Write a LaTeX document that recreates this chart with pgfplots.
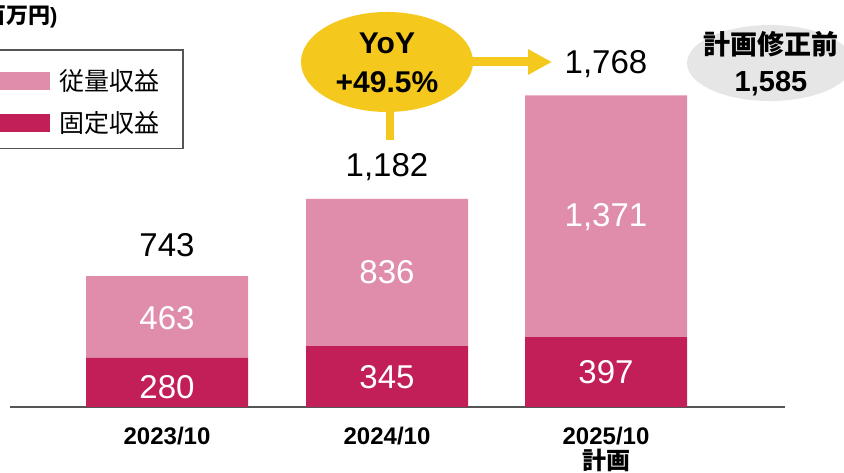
\documentclass[border=0pt]{standalone}
\usepackage{pgfplots}
\pgfplotsset{compat=1.18}
\usepackage{fontspec}
\setmainfont{Liberation Sans}
\newfontfamily\jp{Noto Sans CJK JP}
\usetikzlibrary{arrows.meta}
\definecolor{pinkL}{RGB}{224,141,171}
\definecolor{pinkD}{RGB}{194,30,88}
\definecolor{yel}{RGB}{245,200,30}
\definecolor{bub}{RGB}{230,230,230}
\definecolor{axg}{RGB}{85,85,85}
\begin{document}
\begin{tikzpicture}
\useasboundingbox (0,0) rectangle (844pt,473pt);
\begin{axis}[
  at={(10pt,66pt)}, anchor=south west,
  scale only axis, width=775pt, height=407pt,
  xmin=10, xmax=785, ymin=0, ymax=2308.6,
  clip=false,
  axis x line=bottom, axis y line=none,
  axis line style={-, draw=axg, line width=2.5pt},
  ybar stacked, bar width=162pt,
  xtick={167,387,606},
  xticklabels={2023/10,2024/10,{2025/10\\{\jp\bfseries 計画}}},
  xticklabel style={font=\bfseries\fontsize{24}{25}\selectfont, align=center, inner sep=0pt, yshift=-20pt},
  major tick length=0pt,
  ytick=\empty,
  reverse legend,
  legend style={at={(rel axis cs:0.2245,0.8796)}, anchor=north east,
    draw=axg, line width=1.8pt, inner xsep=24pt, inner ysep=14pt,
    row sep=14pt, column sep=9pt,
    nodes={inner sep=0pt}},
  legend cell align=left,
]
\addplot[fill=pinkD, draw=none, legend image code/.code={\path (0pt,-9pt) -- (0pt,17pt); \fill[pinkD] (0pt,-9pt) rectangle (58pt,9pt);}] coordinates {(167,280) (387,345) (606,397)};
\addlegendentry{\jp\fontsize{25}{28}\selectfont 固定収益}
\addplot[fill=pinkL, draw=none, legend image code/.code={\path (0pt,-9pt) -- (0pt,17pt); \fill[pinkL] (0pt,-9pt) rectangle (58pt,9pt);}] coordinates {(167,463) (387,836) (606,1371)};
\addlegendentry{\jp\fontsize{25}{28}\selectfont 従量収益}

\coordinate (l1) at (axis cs:167,113);
\coordinate (l2) at (axis cs:167,505);
\coordinate (l3) at (axis cs:387,170);
\coordinate (l4) at (axis cs:387,766);
\coordinate (l5) at (axis cs:606,199);
\coordinate (l6) at (axis cs:606,1078);
\coordinate (t1) at (axis cs:167,919);
\coordinate (t2) at (axis cs:387,1361);
\coordinate (t3) at (axis cs:606,1946);
\coordinate (ttl) at (axis cs:61,2212);
\coordinate (vA) at (axis cs:390,1673);
\coordinate (vB) at (axis cs:390,1514);
\coordinate (hA) at (axis cs:470,1957);
\coordinate (hB) at (axis cs:552,1957);
\coordinate (yc) at (axis cs:387,1957);
\coordinate (yt) at (axis cs:387,1951);
\coordinate (gc) at (axis cs:770,1951);
\coordinate (gt) at (axis cs:771,1946);
\end{axis}

\begin{scope}[every node/.style={font=\fontsize{33}{38}\selectfont}]
\node[white] at (l1) {280};
\node[white] at (l2) {463};
\node[white] at (l3) {345};
\node[white] at (l4) {836};
\node[white] at (l5) {397};
\node[white] at (l6) {1,371};
\node[black] at (t1) {743};
\node[black] at (t2) {1,182};
\node[black] at (t3) {1,768};
\end{scope}

\node[anchor=east, font=\bfseries\fontsize{22}{26}\selectfont] at (ttl) {({\jp\bfseries 百万円})};

\draw[yel, line width=8pt] (vA) -- (vB);
\draw[yel, line width=9pt, -{Triangle[length=24pt,width=24pt]}] (hA) -- (hB);
\fill[yel] (yc) ellipse [x radius=86pt, y radius=50pt];
\node[align=center, font=\bfseries\fontsize{30}{39}\selectfont] at (yt) {YoY\\+49.5\%};

\fill[bub] (gc) ellipse [x radius=83pt, y radius=38pt];
\node[align=center, font=\bfseries\fontsize{27}{37}\selectfont] at (gt) {{\jp\bfseries 計画修正前}\\{\fontsize{29}{37}\selectfont 1,585}};
\end{tikzpicture}
\end{document}
